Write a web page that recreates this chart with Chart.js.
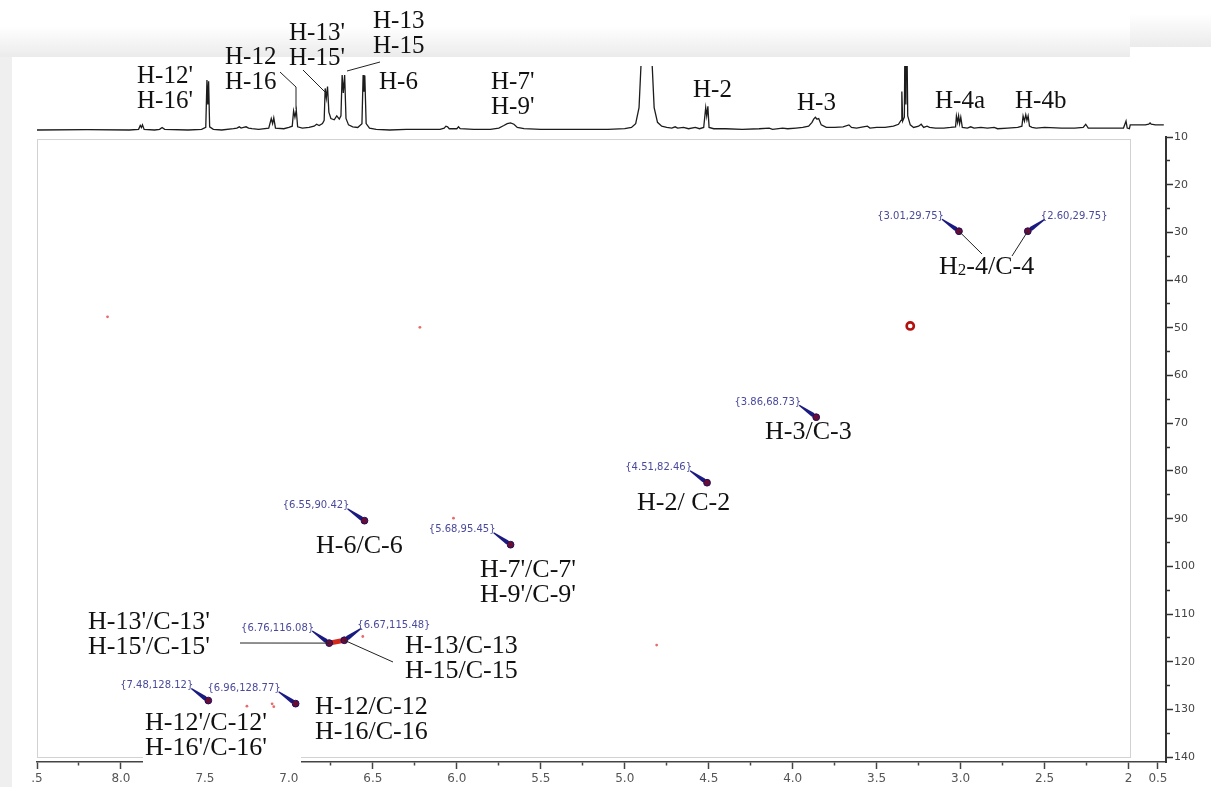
<!DOCTYPE html>
<html>
<head>
<meta charset="utf-8">
<script src="https://cdn.jsdelivr.net/npm/chart.js@4.4.1/dist/chart.umd.min.js"></script>
<style>
  html, body { margin: 0; padding: 0; background: #fff; width: 1211px; height: 787px; overflow: hidden; position: relative; }
  #shadeTop  { position: absolute; left: 0; top: 26px; width: 1130px; height: 31px; background: linear-gradient(#fff, #ebebeb); }
  #shadeTopR { position: absolute; left: 1130px; top: 14px; width: 81px; height: 33px; background: linear-gradient(#fff, #ebebeb); }
  #shadeLeft { position: absolute; left: 0; top: 57px; width: 12px; height: 730px; background: #efefef; }
  canvas { position: absolute; left: 0; }
  #spec { top: 0; z-index: 2; }
  #hsqc { top: 120px; z-index: 1; }
</style>
</head>
<body>
<div id="shadeTop"></div>
<div id="shadeTopR"></div>
<div id="shadeLeft"></div>
<canvas id="hsqc" width="1211" height="667"></canvas>
<canvas id="spec" width="1211" height="140"></canvas>
<script>
// ── shared proton axis (ppm, reversed) ─────────────────────────
const X_LEFT = 8.5, X_RIGHT = 1.777;

const xTickValues = [8.5, 8.25, 8.0, 7.75, 7.5, 7.25, 7.0, 6.75, 6.5, 6.25, 6.0, 5.75, 5.5, 5.25,
  5.0, 4.75, 4.5, 4.25, 4.0, 3.75, 3.5, 3.25, 3.0, 2.75, 2.5, 2.25, 2.0, 1.825];
const xTickLabels = ['.5', '', '8.0', '', '7.5', '', '7.0', '', '6.5', '', '6.0', '', '5.5', '',
  '5.0', '', '4.5', '', '4.0', '', '3.5', '', '3.0', '', '2.5', '', '2', '0.5'];

const yTickValues = [10, 15, 20, 25, 30, 35, 40, 45, 50, 55, 60, 65, 70, 75, 80, 85, 90, 95,
  100, 105, 110, 115, 120, 125, 130, 135, 140];
const yTickLabels = ['10', '', '20', '', '30', '', '40', '', '50', '', '60', '', '70', '', '80', '',
  '90', '', '100', '', '110', '', '120', '', '130', '', '140'];

// ── 1H projection (ppm, relative intensity) ───────────────────
const specPpm = [8.50, 8.20, 7.95, 7.895, 7.885, 7.878, 7.872, 7.862, 7.80, 7.77, 7.755, 7.74, 7.60,
  7.52, 7.495, 7.488, 7.483, 7.478, 7.472, 7.45, 7.40, 7.33, 7.31, 7.295, 7.285, 7.27, 7.255, 7.24,
  7.22, 7.18, 7.12, 7.105, 7.097, 7.09, 7.08, 7.03, 7.00, 6.98, 6.972, 6.964, 6.956, 6.948, 6.92,
  6.88, 6.85, 6.835, 6.82, 6.80, 6.79, 6.784, 6.777, 6.770, 6.762, 6.75, 6.73, 6.715, 6.70, 6.69,
  6.683, 6.676, 6.668, 6.66, 6.645, 6.62, 6.59, 6.565, 6.558, 6.553, 6.548, 6.54, 6.52, 6.48, 6.40,
  6.30, 6.20, 6.10, 6.075, 6.065, 6.055, 6.045, 6.00, 5.99, 5.98, 5.90, 5.80, 5.75, 5.72, 5.70,
  5.68, 5.66, 5.64, 5.60, 5.50, 5.30, 5.10, 5.00, 4.96, 4.935, 4.915, 4.90, 4.88, 4.855, 4.84,
  4.825, 4.805, 4.78, 4.75, 4.72, 4.70, 4.685, 4.65, 4.62, 4.58, 4.555, 4.53, 4.518, 4.512, 4.505,
  4.498, 4.47, 4.40, 4.30, 4.20, 4.14, 4.12, 4.06, 4.03, 3.98, 3.94, 3.905, 3.885, 3.875, 3.865,
  3.855, 3.845, 3.83, 3.80, 3.75, 3.70, 3.665, 3.65, 3.62, 3.58, 3.555, 3.54, 3.50, 3.45, 3.40,
  3.37, 3.355, 3.35, 3.345, 3.335, 3.33, 3.326, 3.322, 3.315, 3.30, 3.28, 3.25, 3.235, 3.22, 3.20,
  3.185, 3.15, 3.10, 3.06, 3.03, 3.025, 3.018, 3.012, 3.006, 2.999, 2.99, 2.96, 2.94, 2.92, 2.88,
  2.84, 2.80, 2.78, 2.72, 2.66, 2.635, 2.628, 2.62, 2.612, 2.605, 2.598, 2.59, 2.575, 2.55, 2.50,
  2.40, 2.32, 2.27, 2.255, 2.24, 2.20, 2.10, 2.03, 2.015, 2.008, 1.995, 1.99, 1.90, 1.88, 1.872,
  1.865, 1.84, 1.79];
const specInt = [0, 0.5, 0, 1, 7, 4, 8, 1, 0, 1, 4, 1, 0,
  1, 4, 78, 40, 76, 5, 1, 0, 2, 3, 5, 3, 4, 5, 3,
  2, 1, 3, 18, 10, 19, 3, 2, 4, 6, 30, 20, 31, 5, 3,
  4, 6, 9, 7, 10, 15, 65, 50, 68, 28, 18, 16, 22, 17, 22,
  86, 58, 86, 18, 8, 5, 4, 10, 86, 60, 85, 10, 3, 1, 0,
  1, 1, 1, 3, 6, 5, 2, 2, 5, 2, 1, 1, 3, 7, 10,
  11, 9, 4, 2, 1, 1, 1, 2, 4, 10, 35, 120, 200, 200, 120,
  35, 12, 6, 4, 3, 5, 3, 4, 2, 4, 2, 4, 35, 22, 37,
  4, 2, 2, 1, 2, 3, 1, 3, 2, 3, 4, 6, 12, 17, 20,
  17, 18, 8, 4, 4, 5, 8, 4, 3, 5, 6, 3, 4, 4, 6,
  9, 15, 60, 14, 20, 200, 40, 200, 22, 8, 4, 6, 9, 4, 6,
  4, 3, 3, 4, 5, 22, 12, 22, 10, 20, 4, 3, 5, 3, 4,
  3, 4, 2, 3, 4, 6, 22, 14, 24, 15, 22, 6, 4, 3, 4,
  3, 3, 4, 9, 3, 3, 3, 3, 14, 3, 2, 8, 8, 9, 11,
  9, 8, 8];

// ── HSQC cross peaks (1H ppm, 13C ppm) ─────────────────────────
const hsqcH = [3.01, 2.60, 3.86, 4.51, 6.55, 5.68, 6.76, 6.67, 7.48, 6.96];
const hsqcC = [29.75, 29.75, 68.73, 82.46, 90.42, 95.45, 116.08, 115.48, 128.12, 128.77];
const solventH = [3.30];
const solventC = [49.6];
const weakH = [7.10, 7.09, 7.25, 6.56, 6.22, 6.02, 8.08, 4.81];
const weakC = [128.8, 129.4, 129.3, 114.7, 49.9, 89.9, 47.7, 116.5];

// which side of the peak the {H,C} tag sits on (layout)
const tagSide = ['l', 'r', 'l', 'l', 'l', 'l', 'l', 'r', 'l', 'l'];

const SERIF = "'Liberation Serif', 'DejaVu Serif', serif";
const SANS = "'DejaVu Sans', Verdana, sans-serif";

// ── labels on the projection (page px) ─────────────────────────
const specTags = [
  { lines: ["H-12'", "H-16'"], x: 137, y: 76 },
  { lines: ['H-12', 'H-16'], x: 225, y: 57 },
  { lines: ["H-13'", "H-15'"], x: 289, y: 33 },
  { lines: ['H-13', 'H-15'], x: 373, y: 21 },
  { lines: ['H-6'], x: 379, y: 82 },
  { lines: ["H-7'", "H-9'"], x: 491, y: 82 },
  { lines: ['H-2'], x: 693, y: 90 },
  { lines: ['H-3'], x: 797, y: 103 },
  { lines: ['H-4a'], x: 935, y: 101 },
  { lines: ['H-4b'], x: 1015, y: 101 },
];
const specLeaders = [
  [[280, 72], [296, 87], [296, 109]],
  [[303, 70], [328, 95]],
  [[380, 62], [347, 71]],
];

const specLabelPlugin = {
  id: 'specLabels',
  afterDraw(chart) {
    const ctx = chart.ctx;
    ctx.save();
    ctx.fillStyle = '#111';
    ctx.font = '25px ' + SERIF;
    ctx.textBaseline = 'middle';
    specTags.forEach(t => t.lines.forEach((s, i) => ctx.fillText(s, t.x, t.y + i * 25)));
    ctx.strokeStyle = '#222';
    ctx.lineWidth = 1;
    specLeaders.forEach(pts => {
      ctx.beginPath();
      pts.forEach((p, i) => i ? ctx.lineTo(p[0], p[1]) : ctx.moveTo(p[0], p[1]));
      ctx.stroke();
    });
    ctx.restore();
  },
};

new Chart(document.getElementById('spec'), {
  type: 'line',
  data: {
    datasets: [{
      data: specPpm.map((x, i) => ({ x, y: specInt[i] })),
      borderColor: '#1c1c1c', borderWidth: 1.3, pointRadius: 0, tension: 0, fill: false,
    }],
  },
  options: {
    responsive: false, animation: false,
    layout: { padding: { left: 37, right: 45, top: 66, bottom: 5 } },
    plugins: { legend: { display: false }, tooltip: { enabled: false } },
    scales: {
      x: { type: 'linear', reverse: true, min: X_RIGHT, max: X_LEFT, display: false },
      y: { min: -7.8, max: 100, display: false },
    },
  },
  plugins: [specLabelPlugin],
});

// ── 2D panel annotations (page px, canvas is shifted by 120) ──
const OFF = 120;
const hsqcTags = [
  { lines: ['H-3/C-3'], x: 765, y: 432 },
  { lines: ['H-2/ C-2'], x: 637, y: 503 },
  { lines: ['H-6/C-6'], x: 316, y: 546 },
  { lines: ["H-7'/C-7'", "H-9'/C-9'"], x: 480, y: 570 },
  { lines: ["H-13'/C-13'", "H-15'/C-15'"], x: 88, y: 622 },
  { lines: ['H-13/C-13', 'H-15/C-15'], x: 405, y: 646 },
  { lines: ['H-12/C-12', 'H-16/C-16'], x: 315, y: 707 },
  { lines: ["H-12'/C-12'", "H-16'/C-16'"], x: 145, y: 723, box: [143, 710, 158, 59] },
];
const hsqcLeaders = [
  { peak: 0, to: [982, 254] },
  { peak: 1, to: [1012, 256] },
  { peak: 6, to: [240, 643] },
  { peak: 7, to: [393, 662] },
];

function peakPx(chart, i) {
  return { x: chart.scales.x.getPixelForValue(hsqcH[i]), y: chart.scales.y.getPixelForValue(hsqcC[i]) };
}

const hsqcPlugin = {
  id: 'hsqcDecor',
  beforeDatasetsDraw(chart) {
    const ctx = chart.ctx;
    ctx.save();
    // light frame of the 2D panel
    ctx.strokeStyle = '#d2d2d2';
    ctx.lineWidth = 1;
    ctx.strokeRect(37.5, 139.5 - OFF, 1130 - 37, 757 - 139);
    // red smear joining the two H-13 cross peaks
    const a = peakPx(chart, 6), b = peakPx(chart, 7);
    ctx.strokeStyle = '#d42a1c';
    ctx.lineWidth = 5;
    ctx.lineCap = 'round';
    ctx.beginPath(); ctx.moveTo(a.x, a.y); ctx.lineTo(b.x, b.y); ctx.stroke();
    // navy arrows from tag to peak
    ctx.fillStyle = '#1a1a80';
    hsqcH.forEach((h, i) => {
      const p = peakPx(chart, i);
      const sx = tagSide[i] === 'l' ? p.x - 17 : p.x + 17;
      const sy = p.y - 12;
      const dx = p.x - sx, dy = p.y - sy, len = Math.hypot(dx, dy);
      const nx = -dy / len, ny = dx / len;
      ctx.beginPath();
      ctx.moveTo(sx + nx * 0.6, sy + ny * 0.6);
      ctx.lineTo(p.x - dx * 0.2 + nx * 2.2, p.y - dy * 0.2 + ny * 2.2);
      ctx.lineTo(p.x, p.y);
      ctx.lineTo(p.x - dx * 0.2 - nx * 2.2, p.y - dy * 0.2 - ny * 2.2);
      ctx.lineTo(sx - nx * 0.6, sy - ny * 0.6);
      ctx.closePath();
      ctx.fill();
    });
    ctx.restore();
  },
  afterDatasetsDraw(chart) {
    const ctx = chart.ctx;
    ctx.save();
    // {H,C} tags
    ctx.font = '10px ' + SANS;
    ctx.fillStyle = '#4a4a9c';
    ctx.textBaseline = 'middle';
    hsqcH.forEach((h, i) => {
      const p = peakPx(chart, i);
      const txt = '{' + h.toFixed(2) + ',' + hsqcC[i].toFixed(2) + '}';
      if (tagSide[i] === 'l') { ctx.textAlign = 'right'; ctx.fillText(txt, p.x - 15, p.y - 15); }
      else { ctx.textAlign = 'left'; ctx.fillText(txt, p.x + 13, p.y - 15); }
    });
    // leader lines
    ctx.strokeStyle = '#222';
    ctx.lineWidth = 1;
    hsqcLeaders.forEach(l => {
      const p = peakPx(chart, l.peak);
      ctx.beginPath(); ctx.moveTo(p.x, p.y); ctx.lineTo(l.to[0], l.to[1] - OFF); ctx.stroke();
    });
    ctx.restore();
  },
  afterDraw(chart) {
    const ctx = chart.ctx;
    ctx.save();
    ctx.textBaseline = 'middle';
    ctx.textAlign = 'left';
    hsqcTags.forEach(t => {
      if (t.box) { ctx.fillStyle = '#fff'; ctx.fillRect(t.box[0], t.box[1] - OFF, t.box[2], t.box[3]); }
      ctx.fillStyle = '#111';
      ctx.font = '26px ' + SERIF;
      t.lines.forEach((s, i) => ctx.fillText(s, t.x, t.y - OFF + i * 25));
    });
    // H2-4/C-4 with subscript
    let x = 939; const y = 267 - OFF;
    ctx.font = '26px ' + SERIF;
    ctx.fillText('H', x, y); x += ctx.measureText('H').width;
    ctx.font = '17px ' + SERIF;
    ctx.fillText('2', x, y + 4); x += ctx.measureText('2').width;
    ctx.font = '26px ' + SERIF;
    ctx.fillText('-4/C-4', x, y);
    ctx.restore();
  },
};

new Chart(document.getElementById('hsqc'), {
  type: 'scatter',
  data: {
    datasets: [
      { data: hsqcH.map((h, i) => ({ x: h, y: hsqcC[i] })), pointRadius: 3.4,
        backgroundColor: '#6a0c34', borderColor: '#1d0f62', borderWidth: 1 },
      { data: solventH.map((h, i) => ({ x: h, y: solventC[i] })), pointRadius: 3.6,
        backgroundColor: 'rgba(255,255,255,0)', borderColor: '#b3100f', borderWidth: 2.6 },
      { data: weakH.map((h, i) => ({ x: h, y: weakC[i] })), pointRadius: 1.4,
        backgroundColor: '#e86a6a', borderWidth: 0 },
    ],
  },
  options: {
    responsive: false, animation: false,
    layout: { padding: { left: 37, top: 17, right: 0, bottom: 0 } },
    plugins: { legend: { display: false }, tooltip: { enabled: false } },
    scales: {
      x: {
        type: 'linear', position: 'bottom', reverse: true, min: X_RIGHT, max: X_LEFT,
        afterBuildTicks: s => { s.ticks = xTickValues.map(v => ({ value: v })); },
        afterFit: s => { s.height = 25; },
        ticks: {
          autoSkip: false, maxRotation: 0, padding: 3, color: '#555',
          font: { family: SANS, size: 12 },
          callback: (v, i) => xTickLabels[i],
        },
        grid: {
          drawOnChartArea: false, tickLength: 7, tickColor: '#444', tickWidth: 1.5,
          tickBorderDash: c => (xTickLabels[c.index] === '' ? [3, 10] : []),
        },
        border: { color: '#444', width: 1.5 },
      },
      y: {
        type: 'linear', position: 'right', reverse: true, min: 10, max: 141,
        afterBuildTicks: s => { s.ticks = yTickValues.map(v => ({ value: v })); },
        afterFit: s => { s.width = 45; },
        ticks: {
          padding: 1, color: '#444',
          font: { family: SANS, size: 11 },
          callback: (v, i) => yTickLabels[i],
        },
        grid: {
          drawOnChartArea: false, tickLength: 7, tickColor: '#333', tickWidth: 1.5,
          tickBorderDash: c => (yTickLabels[c.index] === '' ? [3, 10] : []),
        },
        border: { color: '#333', width: 2 },
      },
    },
  },
  plugins: [hsqcPlugin],
});
</script>
</body>
</html>
